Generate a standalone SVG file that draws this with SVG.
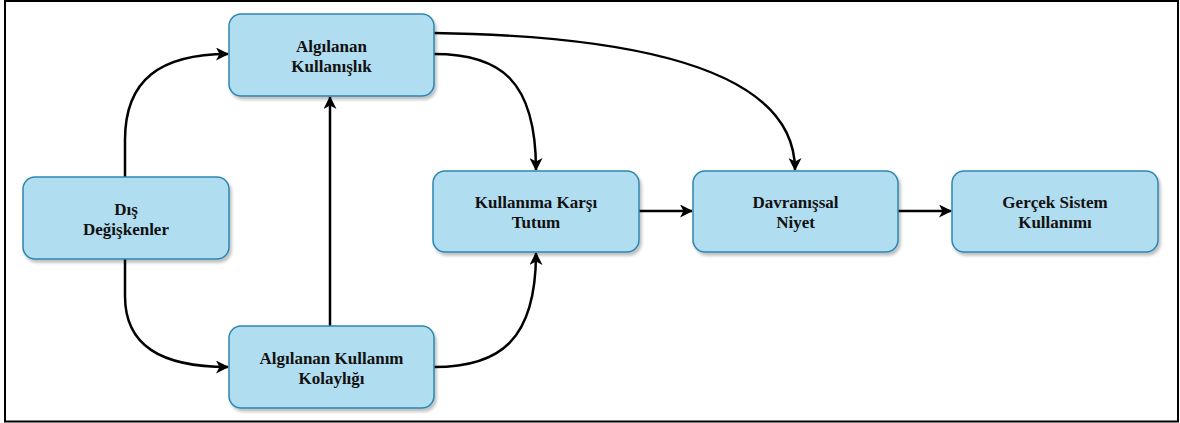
<svg xmlns="http://www.w3.org/2000/svg" width="1180" height="423" viewBox="0 0 1180 423">
  <style>
    .box { fill: #b1ddf0; stroke: #2b86b0; stroke-width: 1.5; filter: url(#shadow); }
    .lbl { font-weight: bold; font-size: 17px; fill: #111; text-anchor: middle; }
    .edge { fill: none; stroke: #000; stroke-width: 2.5; marker-end: url(#arrow); }
  </style>
  <defs>
    <filter id="shadow" x="-10%" y="-10%" width="130%" height="140%">
      <feDropShadow dx="2" dy="3" stdDeviation="1.5" flood-color="#000" flood-opacity="0.25"/>
    </filter>
    <marker id="arrow" viewBox="0 0 13 13" refX="12" refY="6.5" markerWidth="13" markerHeight="13" markerUnits="userSpaceOnUse" orient="auto">
      <path d="M0,0 L13,6.5 L0,13 L3.5,6.5 Z" fill="#000"/>
    </marker>
  </defs>
  <rect x="0" y="0" width="1180" height="423" fill="#fff"/>
  <rect x="5" y="1" width="1173" height="420.5" fill="none" stroke="#000" stroke-width="2"/>

  <g id="connectors">
    <path class="edge" d="M125 177 L125 140 C125 80 160 54 228 54"/>
    <path class="edge" d="M125 259 L125 296 C125 345 160 367 228 367"/>
    <path class="edge" d="M330 326 L330 97"/>
    <path class="edge" d="M434 54 C500 54 536 80 536 170"/>
    <path class="edge" d="M434 33 C640 36 795 70 795 170"/>
    <path class="edge" d="M434 367 C500 367 536 340 536 253"/>
    <path class="edge" d="M639 211 L692 211"/>
    <path class="edge" d="M898 211 L951 211"/>
  </g>

  <g font-family="Liberation Serif, DejaVu Serif, serif">
  <g id="algilanan-kullanislik">
    <rect class="box" x="229" y="14" width="205" height="82" rx="12"/>
    <text class="lbl" x="331.5" y="52">Algılanan</text>
    <text class="lbl" x="331.5" y="72">Kullanışlık</text>
  </g>
  <g id="dis-degiskenler">
    <rect class="box" x="23" y="177" width="206" height="82" rx="12"/>
    <text class="lbl" x="126" y="215">Dış</text>
    <text class="lbl" x="126" y="235">Değişkenler</text>
  </g>
  <g id="algilanan-kullanim-kolayligi">
    <rect class="box" x="229" y="326" width="205" height="82" rx="12"/>
    <text class="lbl" x="331.5" y="364">Algılanan Kullanım</text>
    <text class="lbl" x="331.5" y="384">Kolaylığı</text>
  </g>
  <g id="kullanima-karsi-tutum">
    <rect class="box" x="433" y="171" width="206" height="81" rx="12"/>
    <text class="lbl" x="536" y="208">Kullanıma Karşı</text>
    <text class="lbl" x="536" y="228">Tutum</text>
  </g>
  <g id="davranissal-niyet">
    <rect class="box" x="693" y="171" width="205" height="81" rx="12"/>
    <text class="lbl" x="795.5" y="208">Davranışsal</text>
    <text class="lbl" x="795.5" y="228">Niyet</text>
  </g>
  <g id="gercek-sistem-kullanimi">
    <rect class="box" x="952" y="171" width="206" height="81" rx="12"/>
    <text class="lbl" x="1055" y="208">Gerçek Sistem</text>
    <text class="lbl" x="1055" y="228">Kullanımı</text>
  </g>
  </g>
</svg>
